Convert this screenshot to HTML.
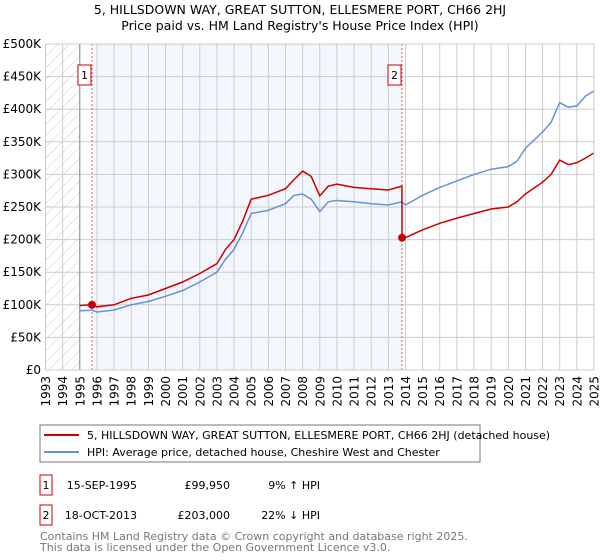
<!DOCTYPE html>
<html><head><meta charset="utf-8"><style>
body{margin:0;background:#fff;font-family:"DejaVu Sans","Liberation Sans",sans-serif}
svg{display:block}
</style></head><body>
<svg id="chart" width="600" height="560" xmlns="http://www.w3.org/2000/svg" font-family="DejaVu Sans, Liberation Sans, sans-serif">
<defs><pattern id="hatch" width="8" height="8" patternUnits="userSpaceOnUse" patternTransform="rotate(45)"><line x1="0" y1="0" x2="0" y2="8" stroke="#ccc" stroke-width="1"/></pattern></defs>
<text x="300" y="14" text-anchor="middle" font-size="12.5" fill="#000">5, HILLSDOWN WAY, GREAT SUTTON, ELLESMERE PORT, CH66 2HJ</text>
<text x="300" y="30" text-anchor="middle" font-size="12.5" fill="#000">Price paid vs. HM Land Registry's House Price Index (HPI)</text>
<g id="plot"></g>
<rect x="40" y="425" width="440" height="37" fill="#fff" stroke="#777"/>
<line x1="44" y1="435" x2="79" y2="435" stroke="#cc0000" stroke-width="2"/>
<text x="87" y="439" font-size="11">5, HILLSDOWN WAY, GREAT SUTTON, ELLESMERE PORT, CH66 2HJ (detached house)</text>
<line x1="44" y1="452" x2="79" y2="452" stroke="#6592d0" stroke-width="2"/>
<text x="87" y="456" font-size="11">HPI: Average price, detached house, Cheshire West and Chester</text>
<g font-size="11">
<rect x="40" y="475" width="12" height="20" fill="#fff" stroke="#cc0000"/>
<text x="46" y="489" text-anchor="middle">1</text>
<text x="137" y="489" text-anchor="end">15-SEP-1995</text>
<text x="230" y="489" text-anchor="end">£99,950</text>
<text x="320" y="489" text-anchor="end">9% ↑ HPI</text>
<rect x="40" y="505" width="12" height="20" fill="#fff" stroke="#cc0000"/>
<text x="46" y="519" text-anchor="middle">2</text>
<text x="137" y="519" text-anchor="end">18-OCT-2013</text>
<text x="230" y="519" text-anchor="end">£203,000</text>
<text x="320" y="519" text-anchor="end">22% ↓ HPI</text>
</g>
<text x="40" y="540" font-size="11" fill="#777">Contains HM Land Registry data © Crown copyright and database right 2025.</text>
<text x="40" y="551" font-size="11" fill="#777">This data is licensed under the Open Government Licence v3.0.</text>
</svg>
<script>
const hpiYears=[1995.0,1995.7,1996,1997,1998,1999,2000,2001,2002,2003,2003.5,2004,2004.5,2005,2006,2007,2007.5,2008,2008.5,2009,2009.5,2010,2011,2012,2013,2013.8,2014,2015,2016,2017,2018,2019,2020,2020.5,2021,2022,2022.5,2023,2023.5,2024,2024.5,2025];
const hpiValues=[91,91.7,89,92,100,105,113,122,135,150,170,185,210,240,245,255,268,270,262,243,258,260,258,255,253,258,253,268,280,290,300,308,312,320,340,365,380,410,403,405,420,428];
const propYears=[1995.0,1995.71,1996,1997,1998,1999,2000,2001,2002,2003,2003.5,2004,2004.5,2005,2006,2007,2007.5,2008,2008.5,2009,2009.5,2010,2011,2012,2013,2013.79,2013.8,2014,2015,2016,2017,2018,2019,2020,2020.5,2021,2022,2022.5,2023,2023.5,2024,2024.5,2025];
const propValues=[99,99.95,97,100,110,115,125,135,148,163,185,200,228,262,268,278,292,305,297,267,282,285,280,278,276,282,203,203,215,225,233,240,247,250,258,270,288,300,322,315,318,325,333];
const saleYears=[1995.71,2013.8];
const saleValues=[99.95,203];
const saleLabels=["1","2"];
const yTicks=[0,50,100,150,200,250,300,350,400,450,500];
const yTickLabels=["£0","£50K","£100K","£150K","£200K","£250K","£300K","£350K","£400K","£450K","£500K"];
const xTicks=[1993,1994,1995,1996,1997,1998,1999,2000,2001,2002,2003,2004,2005,2006,2007,2008,2009,2010,2011,2012,2013,2014,2015,2016,2017,2018,2019,2020,2021,2022,2023,2024,2025];

const X0=45.5,X1=594,Y0=370,Y1=44;
const x=y=>X0+(y-1993)/(2025-1993)*(X1-X0);
const yv=v=>Y0-v/500*(Y0-Y1);
const NS="http://www.w3.org/2000/svg";
const g=document.getElementById('plot');
function mk(t,a){const e=document.createElementNS(NS,t);for(const k in a)e.setAttribute(k,a[k]);g.appendChild(e);return e;}

let e=mk('rect',{x:X0,y:Y1,width:X1-X0,height:Y0-Y1,fill:'#fff'});


e=mk('rect',{x:x(1993),y:Y1,width:x(1995)-x(1993),height:Y0-Y1,fill:'url(#hatch)'});


e=mk('rect',{x:x(saleYears[0]),y:Y1,width:x(saleYears[1])-x(saleYears[0]),height:Y0-Y1,fill:'#f3f6fd'});


yTicks.forEach((t,i)=>{
  let l=mk('line',{x1:X0,x2:X1,y1:yv(t),y2:yv(t),stroke:'#ccc','stroke-width':1});
  
  
  let tx=mk('text',{x:41,y:yv(t)+4,'text-anchor':'end','font-size':12});
  tx.textContent=yTickLabels[i];
  
  
});
xTicks.forEach(t=>{
  let l=mk('line',{x1:x(t),x2:x(t),y1:Y1,y2:Y0,stroke:'#ccc','stroke-width':1});
  
  
  const tx0=x(t)+4.5,ty0=376;
  let tx=mk('text',{x:tx0,y:ty0,'text-anchor':'end','font-size':12,transform:'rotate(-90 '+tx0+' '+ty0+')'});
  tx.textContent=t;
  
  
});
e=mk('line',{x1:x(1995),x2:x(1995),y1:Y1,y2:Y0,stroke:'#888'});


saleYears.forEach((s,i)=>{
  let l=mk('line',{x1:x(s),x2:x(s),y1:Y1,y2:Y0,stroke:'#e06060','stroke-dasharray':'2,2'});
  
  
  let r=mk('rect',{x:x(s)-14,y:65,width:13,height:20,fill:'#fff',stroke:'#cc0000'});
  
  
  let tx=mk('text',{x:x(s)-7.5,y:79,'text-anchor':'middle','font-size':11});
  tx.textContent=saleLabels[i];
  
  
});
e=mk('path',{d:hpiYears.map((t,i)=>(i?'L':'M')+x(t).toFixed(1)+','+yv(hpiValues[i]).toFixed(1)).join(''),fill:'none',stroke:'#6592d0','stroke-width':1.5});


e=mk('path',{d:propYears.map((t,i)=>(i?'L':'M')+x(t).toFixed(1)+','+yv(propValues[i]).toFixed(1)).join(''),fill:'none',stroke:'#cc0000','stroke-width':1.5});


saleYears.forEach((s,i)=>{
  let c=mk('circle',{cx:x(s),cy:yv(saleValues[i]),r:4,fill:'#cc0000'});
  
  
});
e=mk('rect',{x:X0,y:Y1,width:X1-X0,height:Y0-Y1,fill:'none',stroke:'#ccc'});


</script>
</body></html>
